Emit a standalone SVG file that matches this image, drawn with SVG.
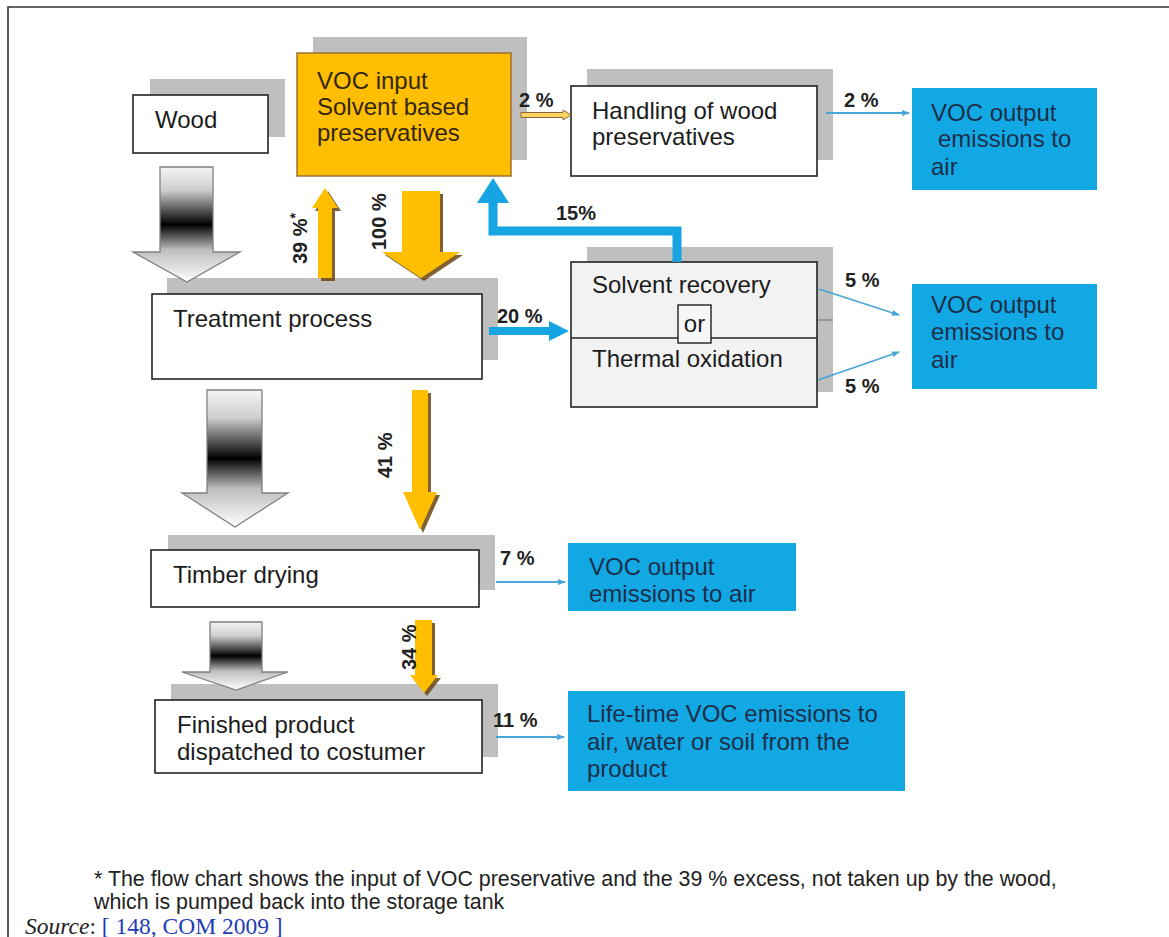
<svg xmlns="http://www.w3.org/2000/svg" width="1169" height="937" viewBox="0 0 1169 937">
<style>
.sh{fill:#bfbfbf}
.bx{fill:#ffffff;stroke:#222;stroke-width:1.6}
.gb{fill:#f2f2f2;stroke:#222;stroke-width:1.6}
.ob{fill:#ffbf00;stroke:#9a6a2a;stroke-width:1.4}
.bl{fill:#12a8e4}
.t{font-family:"Liberation Sans",Arial,sans-serif;font-size:24px;fill:#1c1c1c}
.to{font-family:"Liberation Sans",Arial,sans-serif;font-size:24px;fill:#33260f}
.tb{font-family:"Liberation Sans",Arial,sans-serif;font-size:24px;fill:#1d2f4a}
.lb{font-family:"Liberation Sans",Arial,sans-serif;font-size:20px;font-weight:bold;fill:#222}
.fn{font-family:"Liberation Sans",Arial,sans-serif;font-size:21.4px;fill:#222}
.oa{fill:#ffbf00}
.os{fill:#6b4510;opacity:0.85}
.ga{fill:url(#grad);stroke:#808080;stroke-width:1.3}
.thin{stroke:#4aa6d6;stroke-width:1.8;fill:none;marker-end:url(#ah)}
</style>
<defs>
<linearGradient id="grad" x1="0" y1="0" x2="0" y2="1">
<stop offset="0" stop-color="#f4f4f4"/>
<stop offset="0.2" stop-color="#cfcfcf"/>
<stop offset="0.5" stop-color="#000000"/>
<stop offset="0.72" stop-color="#bdbdbd"/>
<stop offset="1" stop-color="#ffffff"/>
</linearGradient>
<marker id="ah" markerWidth="8" markerHeight="6" refX="7" refY="3" orient="auto" markerUnits="userSpaceOnUse">
<path d="M0,0 L8,3 L0,6 z" fill="#4aa6d6"/>
</marker>
</defs>
<rect width="1169" height="937" fill="#ffffff"/>
<path d="M8,937 L8,7 L1169,7" fill="none" stroke="#333" stroke-width="1.6"/>

<g id="wood">
<rect class="sh" x="150" y="79" width="135" height="58"/>
<rect class="bx" x="133" y="95" width="135" height="58"/>
<text class="t" x="155" y="128">Wood</text>
</g>
<g id="voc-input">
<rect class="sh" x="313" y="37" width="214" height="123"/>
<rect class="ob" x="297" y="53" width="214" height="123"/>
<text class="to" x="317" y="89">VOC input</text>
<text class="to" x="317" y="115">Solvent based</text>
<text class="to" x="317" y="141">preservatives</text>
</g>
<g id="handling">
<rect class="sh" x="587" y="69" width="246" height="91"/>
<rect class="bx" x="571" y="86" width="246" height="90"/>
<text class="t" x="592" y="119">Handling of wood</text>
<text class="t" x="592" y="145">preservatives</text>
</g>
<g id="voc-out-1">
<rect class="bl" x="912" y="88" width="185" height="102"/>
<text class="tb" x="931" y="121">VOC output</text>
<text class="tb" x="938" y="147">emissions to</text>
<text class="tb" x="931" y="175">air</text>
</g>
<g id="treatment">
<rect class="sh" x="167" y="278" width="331" height="82"/>
<rect class="bx" x="152" y="294" width="330" height="85"/>
<text class="t" x="173" y="327">Treatment process</text>
</g>
<g id="solvent">
<rect class="sh" x="587" y="247" width="246" height="145"/>
<line x1="817" y1="320" x2="833" y2="320" stroke="#9a9a9a" stroke-width="2"/>
<rect class="gb" x="571" y="262" width="246" height="145"/>
<line x1="571" y1="338" x2="817" y2="338" stroke="#222" stroke-width="1.6"/>
<text class="t" x="592" y="293">Solvent recovery</text>
<rect x="678" y="305" width="33" height="38" fill="#f7f7f7" stroke="#222" stroke-width="1.4"/>
<text class="t" x="694.5" y="332" text-anchor="middle">or</text>
<text class="t" x="592" y="367">Thermal oxidation</text>
</g>
<g id="voc-out-2">
<rect class="bl" x="912" y="284" width="185" height="105"/>
<text class="tb" x="931" y="313">VOC output</text>
<text class="tb" x="931" y="340">emissions to</text>
<text class="tb" x="931" y="368">air</text>
</g>
<g id="timber">
<rect class="sh" x="168" y="535" width="327" height="55"/>
<rect class="bx" x="151" y="550" width="328" height="57"/>
<text class="t" x="173" y="583">Timber drying</text>
</g>
<g id="voc-out-3">
<rect class="bl" x="568" y="543" width="228" height="68"/>
<text class="tb" x="589" y="575">VOC output</text>
<text class="tb" x="589" y="602">emissions to air</text>
</g>
<g id="finished">
<rect class="sh" x="171" y="684" width="327" height="73"/>
<rect class="bx" x="155" y="700" width="327" height="73"/>
<text class="t" x="177" y="733">Finished product</text>
<text class="t" x="177" y="760">dispatched to costumer</text>
</g>
<g id="lifetime">
<rect class="bl" x="568" y="691" width="337" height="100"/>
<text class="tb" x="587" y="722">Life-time VOC emissions to</text>
<text class="tb" x="587" y="750">air, water or soil from the</text>
<text class="tb" x="587" y="777">product</text>
</g>

<g id="connectors">
<polygon class="ga" points="160,167 213,167 213,252 240,252 187,282 133,252 160,252"/>
<polygon class="ga" points="207,390 262,390 262,493 288,493 235,527 182,493 207,493"/>
<polygon class="ga" points="210,622 262,622 262,672 288,672 236,690 182,672 210,672"/>
<polygon class="os" points="321,281 335,281 335,211 341,211 328,191 315,211 321,211"/>
<polygon class="oa" points="318,278 332,278 332,208 338,208 325,188 312,208 318,208"/>
<polygon class="os" points="405,194 443,194 443,255 463,255 424,281 385,255 405,255"/>
<polygon class="oa" points="402,191 440,191 440,252 460,252 421,278 382,252 402,252"/>
<polygon class="os" points="415,393 431,393 431,495 440,495 423,533 406,495 415,495"/>
<polygon class="oa" points="412,390 428,390 428,492 437,492 420,530 403,492 412,492"/>
<polygon class="os" points="418,623 435,623 435,678 441,678 427,696 413,678 418,678"/>
<polygon class="oa" points="415,620 432,620 432,675 438,675 424,693 410,675 415,675"/>
<polygon points="521,112.5 563,112.5 563,110 571,115 563,120 563,117.5 521,117.5" fill="#ffd560" stroke="#8a6a3a" stroke-width="1"/>
<path d="M677,262 L677,231 L493,231 L493,200" fill="none" stroke="#17a4e2" stroke-width="9"/>
<polygon points="477,203 493,178 509,203" fill="#17a4e2"/>
<polygon points="489,327 549,327 549,321 569,331 549,341 549,335 489,335" fill="#17a4e2"/>
<line class="thin" x1="826" y1="113" x2="909" y2="113"/>
<line class="thin" x1="819" y1="289" x2="899" y2="315"/>
<line class="thin" x1="818" y1="380" x2="899" y2="352"/>
<line class="thin" x1="496" y1="582" x2="565" y2="582"/>
<line class="thin" x1="496" y1="737" x2="564" y2="737" stroke-width="3"/>
<text class="lb" x="519" y="107">2 %</text>
<text class="lb" x="844" y="107">2 %</text>
<text class="lb" x="556" y="220">15%</text>
<text class="lb" x="497" y="323">20 %</text>
<text class="lb" x="845" y="287">5 %</text>
<text class="lb" x="845" y="393">5 %</text>
<text class="lb" x="500" y="565">7 %</text>
<text class="lb" x="493" y="727">11 %</text>
<text class="lb" transform="translate(307,264) rotate(-90)">39 %<tspan font-size="14" dy="-7">*</tspan></text>
<text class="lb" transform="translate(386,250) rotate(-90)">100 %</text>
<text class="lb" transform="translate(392,478) rotate(-90)">41 %</text>
<text class="lb" transform="translate(416,670) rotate(-90)" font-size="19">34 %</text>
</g>

<g id="footnote">
<text class="fn" x="94" y="886">* The flow chart shows the input of VOC preservative and the 39 % excess, not taken up by the wood,</text>
<text class="fn" x="94" y="909">which is pumped back into the storage tank</text>
<text x="25" y="934" font-family="'Liberation Serif','Times New Roman',serif" font-size="23.5" fill="#222"><tspan font-style="italic">Source</tspan>: <tspan fill="#1f3db5">[ 148, COM 2009 ]</tspan></text>
</g>
</svg>
